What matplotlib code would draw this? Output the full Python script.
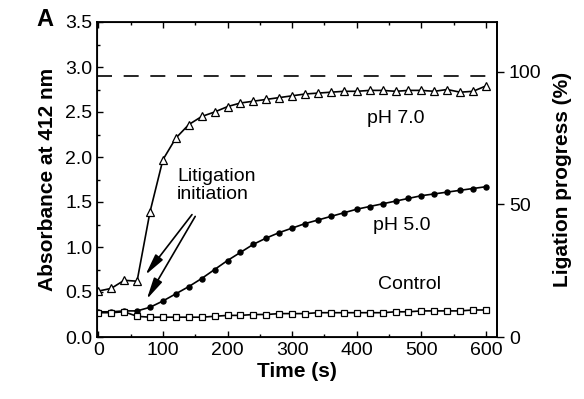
import matplotlib
matplotlib.use("Agg")
import matplotlib.pyplot as plt
from matplotlib.ticker import MultipleLocator

plt.rcParams['font.family'] = ['Liberation Sans', 'DejaVu Sans']

time_s = list(range(0, 601, 20))
ph7 = [0.51, 0.54, 0.63, 0.62, 1.39, 1.97, 2.21, 2.36, 2.45, 2.50, 2.56, 2.60, 2.62, 2.64,
       2.66, 2.68, 2.70, 2.71, 2.72, 2.73, 2.73, 2.74, 2.74, 2.73, 2.74, 2.74, 2.73, 2.75,
       2.72, 2.73, 2.79]
ph5 = [0.28, 0.28, 0.29, 0.29, 0.33, 0.40, 0.48, 0.56, 0.65, 0.75, 0.85, 0.94, 1.03, 1.10,
       1.16, 1.21, 1.26, 1.30, 1.34, 1.38, 1.42, 1.45, 1.48, 1.51, 1.54, 1.57, 1.59, 1.61,
       1.63, 1.65, 1.67]
control = [0.27, 0.27, 0.28, 0.23, 0.22, 0.22, 0.22, 0.22, 0.22, 0.23, 0.24, 0.24, 0.25,
           0.25, 0.26, 0.26, 0.26, 0.27, 0.27, 0.27, 0.27, 0.27, 0.27, 0.28, 0.28, 0.29,
           0.29, 0.29, 0.29, 0.30, 0.30]
full_ligation = 2.9
left_ticks = [0.0, 0.5, 1.0, 1.5, 2.0, 2.5, 3.0, 3.5]
right_ticks = [0, 50, 100]
x_ticks = [0, 100, 200, 300, 400, 500, 600]

fig = plt.figure(figsize=(5.84, 3.99), dpi=100)
ax = fig.add_axes([97/584, 62/399, 400/584, 315/399])

ax.plot(time_s, ph7, color='black', lw=1.2, marker='^', ms=5.5, mfc='white', mec='black', mew=0.9)
ax.plot(time_s, ph5, color='black', lw=1.2, marker='o', ms=3.6, mfc='black', mec='black')
ax.plot(time_s, control, color='black', lw=1.2, marker='s', ms=3.8, mfc='white', mec='black', mew=0.9)
ax.axhline(full_ligation, color='black', lw=1.2, ls=(0, (9, 7)))

ax.set_xlim(-2, 617)
ax.set_ylim(0, 3.5)
ax.set_xticks(x_ticks)
ax.set_yticks(left_ticks)
ax.set_yticklabels([f"{v:.1f}" for v in left_ticks])
ax.xaxis.set_minor_locator(MultipleLocator(50))
ax.yaxis.set_minor_locator(MultipleLocator(0.25))
ax.tick_params(which='both', direction='in', top=True, right=False, labelsize=14, width=1)
ax.tick_params(which='major', length=4)
ax.tick_params(which='minor', length=2.5)
for s in ax.spines.values():
    s.set_linewidth(1.3)

ax.set_xlabel('Time (s)', fontsize=15, fontweight='bold', labelpad=2)
ax.set_ylabel('Absorbance at 412 nm', fontsize=15, fontweight='bold', labelpad=6)

ax2 = ax.twinx()
ax2.set_ylim(0, 100 * 3.5 / 2.95)
ax2.set_yticks(right_ticks)
ax2.tick_params(direction='out', length=5, labelsize=14, width=1)
ax2.spines['right'].set_linewidth(1.3)
ax2.set_ylabel('Ligation progress (%)', fontsize=15, fontweight='bold', labelpad=8)

ax.text(460, 2.43, 'pH 7.0', fontsize=14, ha='center', va='center')
ax.text(470, 1.24, 'pH 5.0', fontsize=14, ha='center', va='center')
ax.text(481, 0.58, 'Control', fontsize=14, ha='center', va='center')
ax.text(122, 1.68, 'Litigation\ninitiation', fontsize=14, ha='left', va='center', linespacing=1.1)

arrow_style = dict(arrowstyle='-|>,head_length=1.3,head_width=0.28', color='black', lw=1.2,
                   shrinkA=0, shrinkB=0)
ax.annotate('', xy=(73, 0.69), xytext=(145, 1.36), arrowprops=arrow_style)
ax.annotate('', xy=(75, 0.42), xytext=(150, 1.34), arrowprops=arrow_style)

fig.text(45/584, 1 - 20/399, 'A', fontsize=17, fontweight='bold', ha='center', va='center')

fig.savefig('out.png', dpi=100)
